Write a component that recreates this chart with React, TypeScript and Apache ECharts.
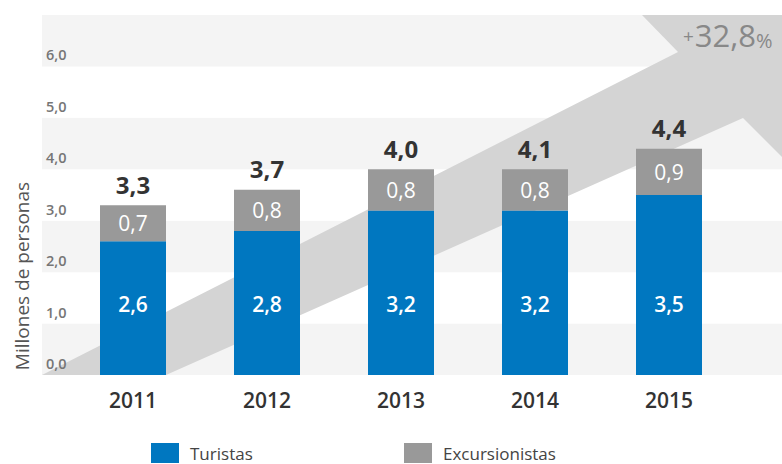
import React, { useEffect, useRef } from "react";
import * as echarts from "echarts";

const years = ["2011", "2012", "2013", "2014", "2015"];
const turistas = [2.6, 2.8, 3.2, 3.2, 3.5];
const excursionistas = [0.7, 0.8, 0.8, 0.8, 0.9];
const totales = [3.3, 3.7, 4.0, 4.1, 4.4];
const crecimiento = "32,8";
const yMin = 0;
const yMax = 7;
const yStep = 1;

const FONT = "'Open Sans', 'Noto Sans', sans-serif";
const fmt = (v: number) => v.toFixed(1).replace(".", ",");

export default function App() {
  const ref = useRef<HTMLDivElement>(null);
  useEffect(() => {
    document.body.style.margin = "0";
    if (!ref.current) return;
    const chart = echarts.init(ref.current, undefined, { renderer: "svg" });
    const option: any = {
      animation: false,
      textStyle: { fontFamily: FONT },
      grid: [
        { left: 42, right: 0, top: 15, bottom: 89 },
        { left: 66, right: 46, top: 15, bottom: 89 },
      ],
      xAxis: [
        { gridIndex: 0, type: "value", min: 0, max: 1, show: false },
        {
          gridIndex: 1,
          type: "category",
          data: years,
          axisLine: { show: false },
          axisTick: { show: false },
          axisLabel: {
            margin: 14,
            fontSize: 21,
            fontWeight: 600,
            color: "#333333",
            fontFamily: FONT,
          },
        },
      ],
      yAxis: [
        {
          gridIndex: 0,
          type: "value",
          position: "left",
          min: yMin,
          max: yMax,
          interval: yStep,
          z: 0,
          axisLine: { show: false },
          axisTick: { show: false },
          axisLabel: { show: false },
          splitLine: { show: false },
          splitArea: { show: true, areaStyle: { color: ["#f4f4f4", "#ffffff"] } },
        },
        {
          gridIndex: 0,
          type: "value",
          position: "left",
          min: yMin,
          max: yMax,
          interval: yStep,
          z: 4,
          axisLine: { show: false },
          axisTick: { show: false },
          splitLine: { show: false },
          splitArea: { show: false },
          axisLabel: {
            inside: true,
            margin: 4,
            showMaxLabel: false,
            verticalAlign: "bottom",
            padding: [0, 0, 4, 0],
            fontSize: 14.5,
            fontWeight: 600,
            color: "#767676",
            fontFamily: FONT,
            formatter: (v: number) => (v >= yMax ? "" : fmt(v)),
          },
        },
        { gridIndex: 1, type: "value", min: yMin, max: yMax, show: false },
      ],
      legend: [
        {
          left: 151,
          top: 443,
          icon: "rect",
          itemWidth: 28,
          itemHeight: 20,
          padding: 0,
          data: ["Turistas"],
          textStyle: { fontSize: 17, color: "#444444", fontFamily: FONT, padding: [0, 0, 0, 6] },
        },
        {
          left: 404,
          top: 443,
          icon: "rect",
          itemWidth: 28,
          itemHeight: 20,
          padding: 0,
          data: ["Excursionistas"],
          textStyle: { fontSize: 17, color: "#444444", fontFamily: FONT, padding: [0, 0, 0, 6] },
        },
      ],
      graphic: [
        {
          type: "polygon",
          z: 1,
          silent: true,
          shape: {
            points: [
              [42, 375],
              [678, 52],
              [642, 15],
              [782, 15],
              [782, 157],
              [743, 118],
              [166, 375],
            ],
          },
          style: { fill: "#d4d4d4" },
        },
        {
          type: "text",
          z: 5,
          x: 683,
          y: 14,
          style: {
            text: "{p|+}{n|" + crecimiento + "}{q|%}",
            fill: "#888888",
            rich: {
              p: { fontSize: 19, lineHeight: 36, verticalAlign: "bottom", fontFamily: FONT, fill: "#888888", padding: [0, 1, 5, 0] },
              n: { fontSize: 31, lineHeight: 36, verticalAlign: "bottom", fontFamily: FONT, fill: "#888888" },
              q: { fontSize: 20, lineHeight: 36, verticalAlign: "bottom", fontFamily: FONT, fill: "#888888" },
            },
          },
        },
        {
          type: "text",
          z: 5,
          x: 22,
          y: 276,
          rotation: Math.PI / 2,
          style: {
            text: "Millones de personas",
            fontSize: 19,
            fontFamily: FONT,
            fill: "#555555",
            align: "center",
            verticalAlign: "middle",
          },
        },
      ],
      series: [
        {
          name: "Turistas",
          type: "bar",
          stack: "total",
          xAxisIndex: 1,
          yAxisIndex: 2,
          barWidth: 66,
          z: 2,
          itemStyle: { color: "#0077c0" },
          label: {
            show: true,
            position: "insideBottom",
            distance: 61,
            fontSize: 21,
            fontWeight: 600,
            color: "#ffffff",
            fontFamily: FONT,
            formatter: (p: any) => fmt(p.value),
          },
          data: turistas,
        },
        {
          name: "Excursionistas",
          type: "bar",
          stack: "total",
          xAxisIndex: 1,
          yAxisIndex: 2,
          barWidth: 66,
          z: 2,
          itemStyle: { color: "#999999" },
          label: {
            show: true,
            position: "inside",
            fontSize: 21,
            color: "#ffffff",
            fontFamily: FONT,
            formatter: (p: any) => fmt(p.value),
          },
          data: excursionistas,
        },
        {
          name: "Total",
          type: "bar",
          stack: "total",
          xAxisIndex: 1,
          yAxisIndex: 2,
          barWidth: 66,
          z: 3,
          itemStyle: { color: "transparent" },
          label: {
            show: true,
            position: "top",
            distance: 9,
            fontSize: 24,
            fontWeight: 700,
            color: "#333333",
            fontFamily: FONT,
            formatter: (p: any) => fmt(totales[p.dataIndex]),
          },
          data: totales.map(() => 0),
        },
      ],
    };
    chart.setOption(option);
    return () => chart.dispose();
  }, []);
  return <div ref={ref} style={{ width: 782, height: 464 }} />;
}
